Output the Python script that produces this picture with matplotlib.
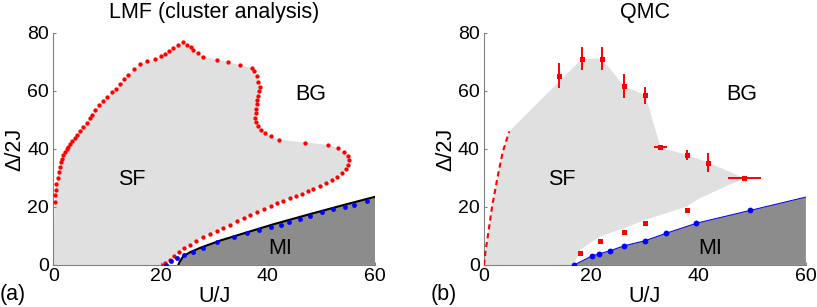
import numpy as np
import matplotlib
matplotlib.use('Agg')
import matplotlib.pyplot as plt

plt.rcParams['font.family'] = ['Liberation Sans', 'DejaVu Sans']

# ---- (a) LMF cluster analysis ----
# SF / BG boundary (red dots), upper part then lower branch
lmf_red_u = [0.3, 0.4, 0.5, 0.6, 0.8, 1.0, 1.2, 1.4, 1.7, 1.9, 2.2, 2.5, 2.8, 3.1, 3.5, 4.0,
             4.5, 5.0, 5.6, 6.2, 6.8, 7.3, 7.8, 8.5, 9.3, 10.1, 10.9, 11.6, 12.4, 13.2, 14.0,
             15.1, 16.2, 17.5, 19.0, 20.0, 20.8, 21.6, 22.4, 23.3, 24.2, 25.0, 25.6, 26.1,
             27.0, 28.0, 30.5, 32.6, 34.8, 37.0, 37.4, 37.9, 38.2, 38.5, 38.4, 38.2, 38.0,
             37.9, 37.8, 37.7, 37.6, 37.8, 38.2, 38.8, 39.5, 40.5, 42.0, 47.0, 51.3, 53.0,
             54.2, 54.9,
             55.1, 55.0, 54.5, 53.8, 52.9, 51.9, 50.8, 49.7, 48.5, 47.4, 46.3, 45.2, 44.1,
             42.9, 41.7, 40.5, 39.2, 38.0, 36.7, 35.5, 34.2, 33.0, 31.7, 30.5, 29.2, 27.9,
             26.6, 25.4, 24.3, 23.4, 22.5, 21.7, 20.9, 20.5]
lmf_red_d = [21.8, 24.0, 26.0, 28.0, 30.0, 32.0, 33.8, 35.4, 36.6, 37.8, 39.0, 40.0, 40.8, 41.6,
             42.6, 43.6, 44.8, 46.0, 47.6, 49.0, 50.6, 51.7, 53.4, 55.2, 56.6, 57.8, 59.5,
             60.6, 62.2, 64.0, 65.6, 67.6, 69.4, 70.2, 70.9, 72.0, 72.6, 73.6, 74.7, 75.8,
             76.8, 75.8, 75.0, 74.2, 73.0, 71.8, 70.8, 70.0, 68.8, 67.8, 66.8, 65.0, 63.2,
             61.5, 60.0, 58.4, 56.9, 55.4, 53.8, 52.3, 50.8, 49.4, 48.0, 46.6, 45.4, 44.4,
             43.2, 42.2, 41.4, 40.3,
             39.0, 37.6,
             36.0, 34.4, 33.0, 31.6, 30.4, 29.3, 28.3, 27.3, 26.3, 25.4, 24.6, 23.9, 23.1,
             22.2, 21.3, 20.4, 19.4, 18.3, 17.2, 16.1, 15.0, 13.9, 12.8, 11.7, 10.6, 9.5,
             8.3, 7.0, 5.7, 4.3, 3.0, 1.7, 0.6, 0.0]

# MI boundary (blue dots) and the MI edge line
lmf_blue_u = [21.1, 22.0, 23.0, 24.3, 26.1, 28.0, 30.5, 33.6, 36.1, 38.3, 40.5, 42.4, 44.0,
              46.0, 47.9, 50.0, 52.2, 54.4, 56.0, 58.5]
lmf_blue_d = [0.0, 1.2, 2.3, 3.5, 4.6, 5.8, 7.8, 9.6, 10.9, 12.1, 13.0, 13.8, 14.8, 16.0,
              17.0, 18.2, 19.2, 20.1, 20.8, 22.0]
lmf_mi_u = [23.3, 23.6, 24.2, 25.5, 27.4, 31.1, 34.8, 41.0, 48.0, 54.0, 60.0]
lmf_mi_d = [0.0, 1.2, 2.9, 4.4, 5.9, 8.4, 10.5, 14.0, 17.6, 20.6, 23.5]

# ---- (b) QMC ----
qmc_u = [14.0, 18.3, 22.0, 26.1, 30.1, 32.9, 37.8, 41.8, 48.5]
qmc_d = [65.2, 71.1, 71.1, 61.6, 58.5, 40.5, 37.9, 35.3, 29.9]
qmc_err_u = [0, 0, 0, 0, 0, 1.2, 0, 0, 3.1]
qmc_err_d = [4.3, 4.0, 4.0, 4.2, 3.0, 0, 1.8, 3.2, 0]
qmc_low_u = [17.9, 21.7, 26.1, 30.1, 37.8]
qmc_low_d = [4.0, 8.4, 11.5, 14.4, 18.8]
qmc_dash_u = [0.0, 0.3, 0.8, 1.5, 2.5, 3.5, 4.7]
qmc_dash_d = [0.0, 5.0, 11.0, 20.0, 30.0, 39.0, 46.0]
qmc_blue_u = [16.8, 20.1, 21.4, 23.5, 26.1, 30.1, 33.9, 39.6, 49.6]
qmc_blue_d = [0.0, 3.1, 3.8, 4.9, 6.6, 8.4, 10.9, 14.4, 18.8]
qmc_mi_u = [16.8, 20.1, 21.4, 23.5, 26.1, 30.1, 33.9, 39.6, 49.6, 60.0]
qmc_mi_d = [0.0, 3.1, 3.8, 4.9, 6.6, 8.4, 10.9, 14.4, 18.8, 23.4]
qmc_sf_u = [0.0, 0.3, 0.8, 1.5, 2.5, 3.5, 4.7, 18.3, 22.0, 26.1, 30.1, 32.9, 37.8, 41.8,
            48.5, 40.2, 37.8, 30.0, 26.0, 21.6, 17.9, 16.8]
qmc_sf_d = [0.0, 5.0, 11.0, 20.0, 30.0, 39.0, 46.0, 71.1, 71.1, 61.6, 58.5, 40.5, 37.9,
            35.3, 29.9, 23.0, 20.1, 15.5, 12.6, 9.8, 5.2, 0.0]

light = '#e0e0e0'
dark = '#8c8c8c'
fs = 15.5    # labels, titles, region names
fs_tick = 14


def style_axes(ax):
    ax.set_xlim(0, 60)
    ax.set_ylim(0, 80)
    ax.set_xticks([0, 20, 40, 60])
    ax.set_yticks([0, 20, 40, 60, 80])
    for s in ['top', 'right']:
        ax.spines[s].set_visible(False)
    for s in ['left', 'bottom']:
        ax.spines[s].set_color('#808080')
        ax.spines[s].set_linewidth(0.8)
    ax.tick_params(direction='in', length=2.5, width=0.8, color='#808080',
                   labelsize=fs_tick)
    ax.tick_params(axis='x', pad=2)
    ax.tick_params(axis='y', pad=3)
    ax.set_xlabel('U/J', fontsize=fs, labelpad=1)
    ax.set_ylabel('Δ/2J', fontsize=fs, labelpad=1)


fig = plt.figure(figsize=(8.17, 3.07), dpi=100)
ax1 = fig.add_axes([0.0652, 0.137, 0.394, 0.756])
ax2 = fig.add_axes([0.5924, 0.137, 0.394, 0.756])

# panel (a)
ax1.fill(np.r_[0, lmf_red_u], np.r_[0, lmf_red_d], color=light, lw=0, zorder=0)
ax1.fill(np.r_[lmf_mi_u, 60], np.r_[lmf_mi_d, 0], color=dark, lw=0, zorder=1)
ax1.plot(lmf_mi_u, lmf_mi_d, color='black', lw=1.5, zorder=2)
ax1.plot(lmf_red_u, lmf_red_d, 'o', color='red', ms=3.1, mew=0, zorder=3)
ax1.plot(lmf_blue_u, lmf_blue_d, 'o', color='blue', ms=3.5, mew=0, zorder=3)
ax1.text(14.6, 29.3, 'SF', fontsize=fs, ha='center', va='center')
ax1.text(47.9, 58.7, 'BG', fontsize=fs, ha='center', va='center')
ax1.text(42.3, 5.8, 'MI', fontsize=fs, ha='center', va='center')
ax1.set_title('LMF (cluster analysis)', fontsize=fs, pad=11)
style_axes(ax1)

# panel (b)
ax2.fill(qmc_sf_u, qmc_sf_d, color=light, lw=0, zorder=0)
ax2.fill(np.r_[qmc_mi_u, 60], np.r_[qmc_mi_d, 0], color=dark, lw=0, zorder=1)
ax2.plot(qmc_mi_u, qmc_mi_d, color='blue', lw=0.7, zorder=2)
ax2.plot(qmc_blue_u, qmc_blue_d, 'o', color='blue', ms=4.2, mew=0, zorder=3)
ax2.plot(qmc_dash_u, qmc_dash_d, '--', color='red', lw=1.5, dashes=(2.5, 1.8), zorder=3)
for u, d, eu, ed in zip(qmc_u, qmc_d, qmc_err_u, qmc_err_d):
    ax2.errorbar(u, d, xerr=eu if eu else None, yerr=ed if ed else None, fmt='s',
                 color='red', ms=3.6, mew=0, elinewidth=1.4, capsize=2, capthick=1.2,
                 zorder=4)
ax2.plot(qmc_low_u, qmc_low_d, 's', color='red', ms=3.6, mew=0, zorder=4)
ax2.text(14.5, 29.3, 'SF', fontsize=fs, ha='center', va='center')
ax2.text(48.0, 58.7, 'BG', fontsize=fs, ha='center', va='center')
ax2.text(42.1, 5.8, 'MI', fontsize=fs, ha='center', va='center')
ax2.set_title('QMC', fontsize=fs, pad=11)
style_axes(ax2)

fig.text(0.0, 0.04, '(a)', fontsize=fs, ha='left', va='center')
fig.text(0.527, 0.04, '(b)', fontsize=fs, ha='left', va='center')

fig.savefig('out.png', dpi=100)
